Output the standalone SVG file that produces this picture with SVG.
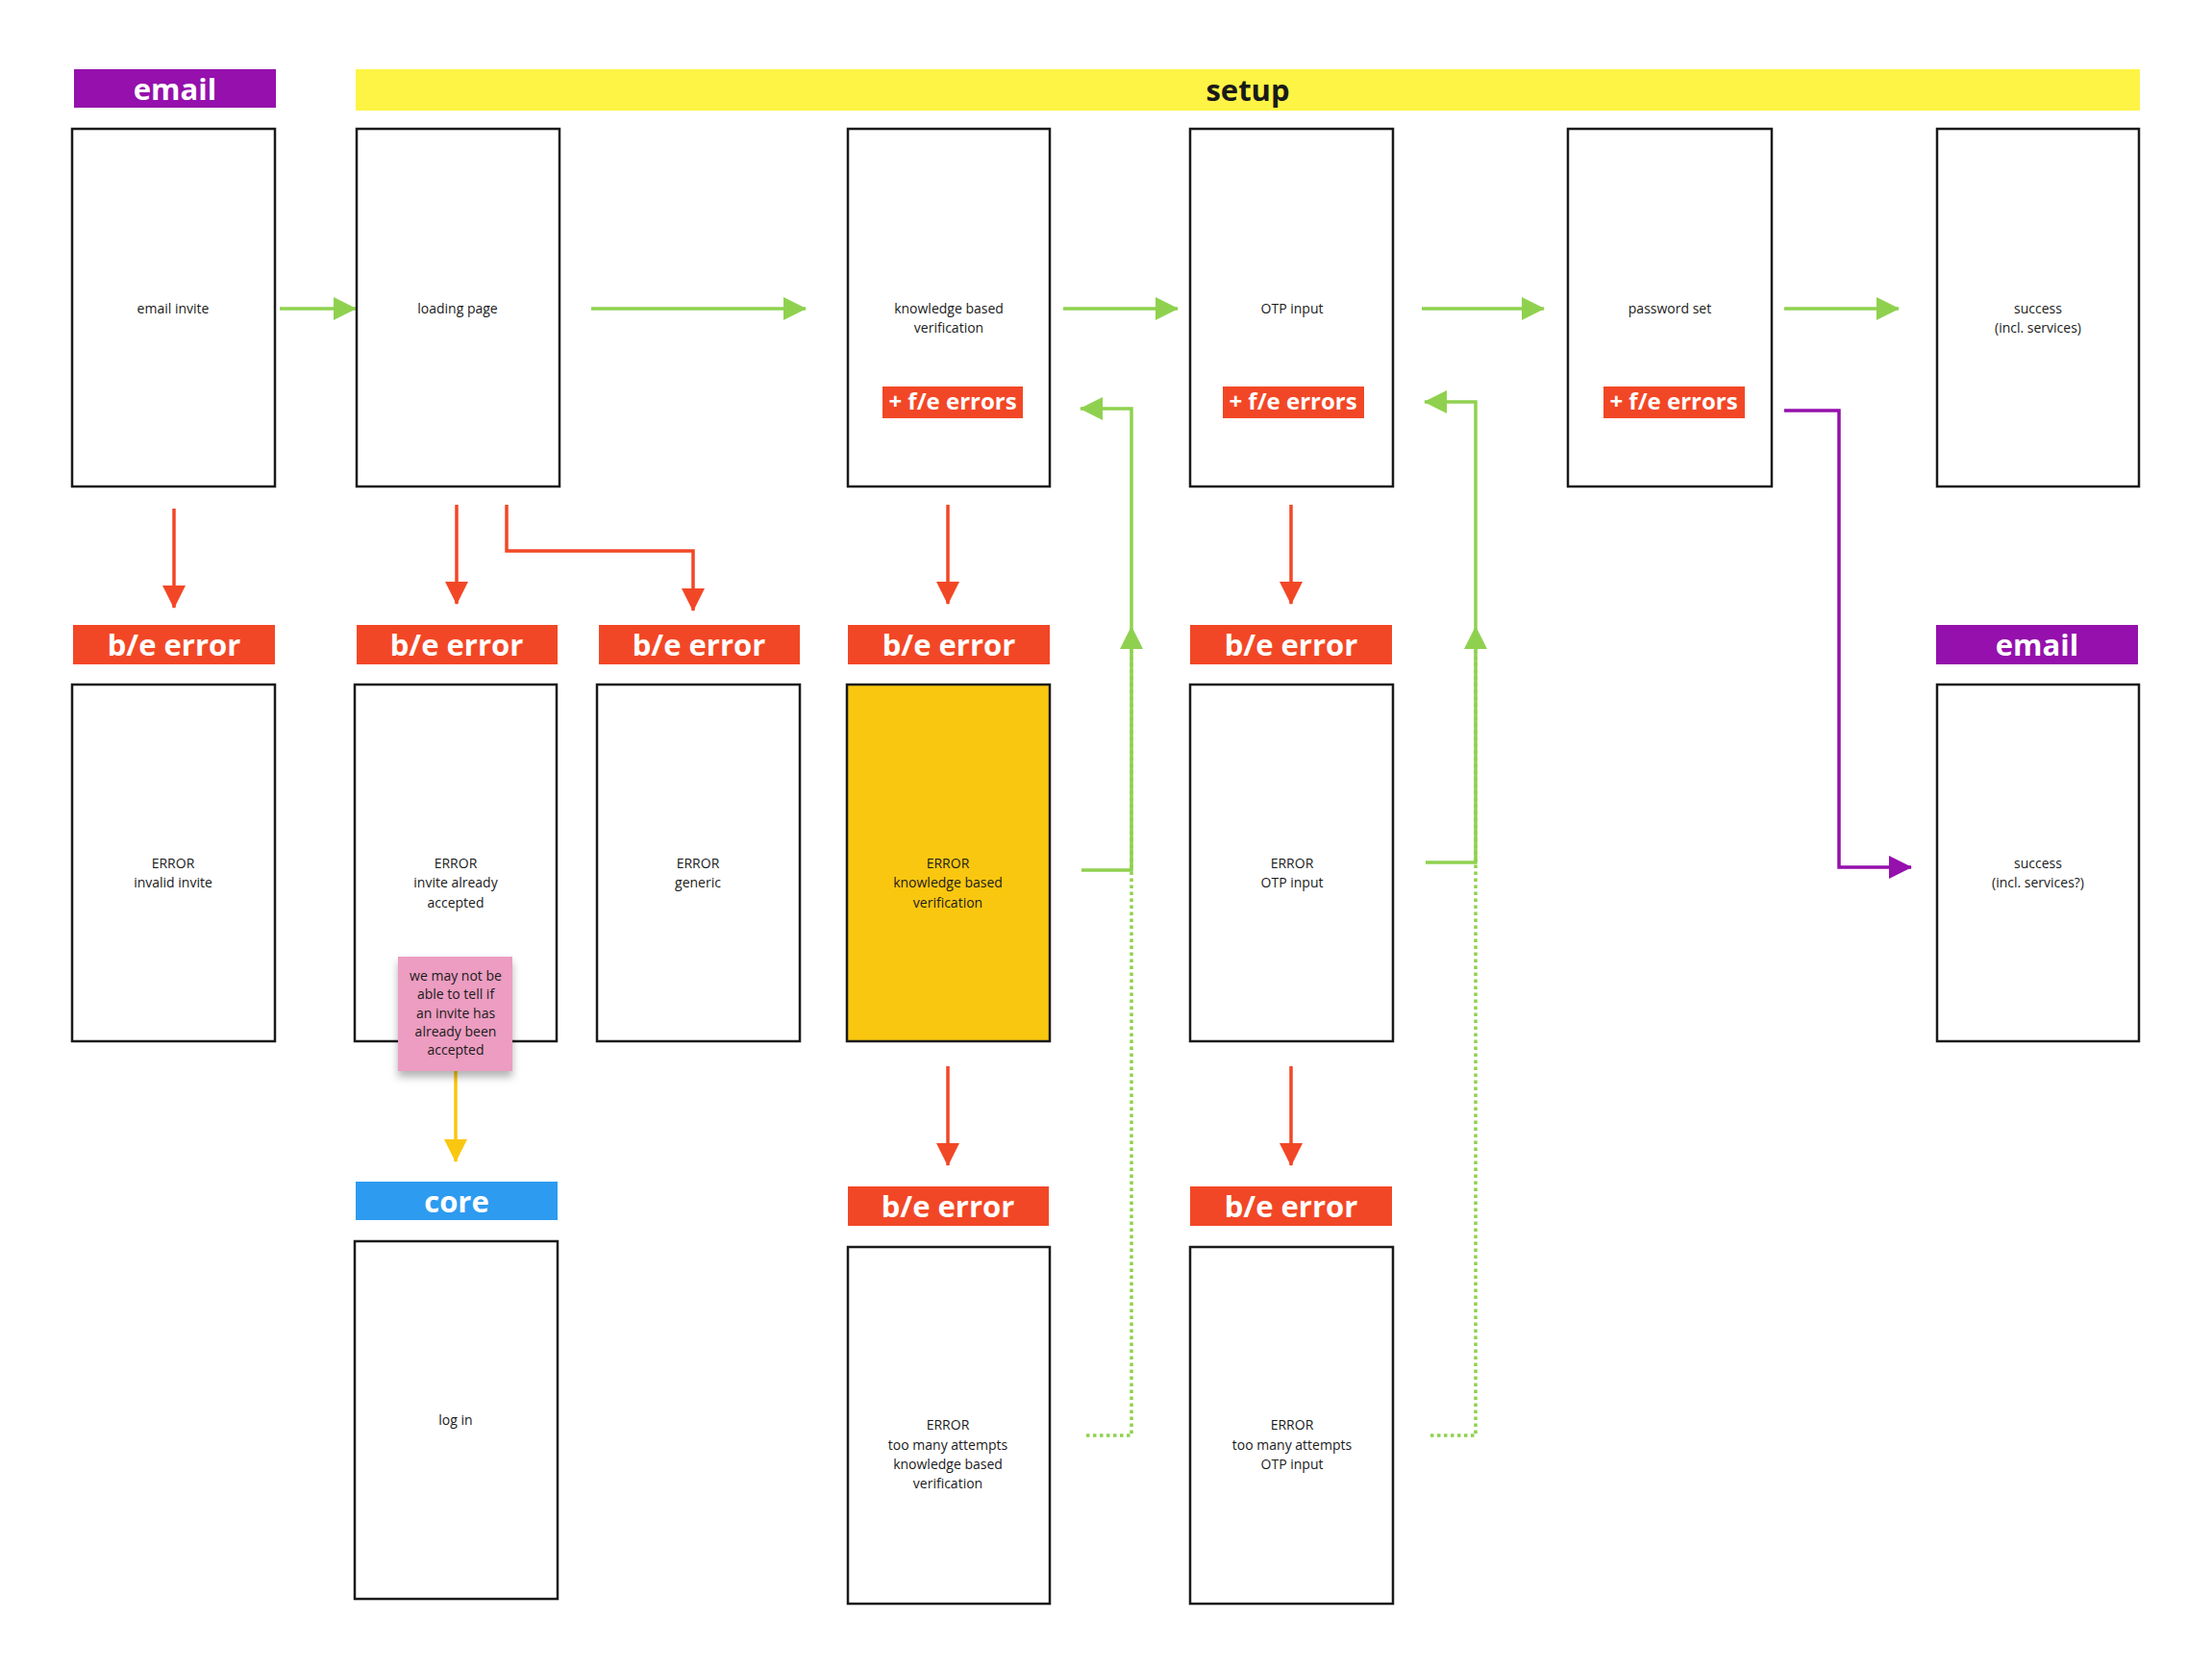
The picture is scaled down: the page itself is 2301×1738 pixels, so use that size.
<svg xmlns="http://www.w3.org/2000/svg" width="2301" height="1738" viewBox="0 0 2301 1738">
<style>
.box{fill:#ffffff;stroke:#1a1a1a;stroke-width:2.5}
.t{font-family:"Open Sans","Liberation Sans",sans-serif;font-size:14px;fill:#1a1a1a;text-anchor:middle}
.lbl{font-family:"Open Sans","Liberation Sans",sans-serif;font-weight:bold;font-size:31px;fill:#ffffff;text-anchor:middle}
.fe{font-family:"Open Sans","Liberation Sans",sans-serif;font-weight:bold;font-size:24px;fill:#ffffff;text-anchor:middle}
.red{fill:#f24726}
.purple{fill:#9510ac}
.c{fill:none;stroke-width:3.5;stroke-linejoin:miter}
.cg{stroke:#8fd14f}
.cr{stroke:#f24726}
.cy{stroke:#fac710}
.cp{stroke:#9510ac}
.dot{stroke-dasharray:3.5 3.5}
</style>
<defs>
<marker id="ag" markerUnits="userSpaceOnUse" markerWidth="24" markerHeight="24" refX="23" refY="12" orient="auto"><path d="M0,0 L24,12 L0,24 z" fill="#8fd14f"/></marker>
<marker id="ar" markerUnits="userSpaceOnUse" markerWidth="24" markerHeight="24" refX="23" refY="12" orient="auto"><path d="M0,0 L24,12 L0,24 z" fill="#f24726"/></marker>
<marker id="ay" markerUnits="userSpaceOnUse" markerWidth="24" markerHeight="24" refX="23" refY="12" orient="auto"><path d="M0,0 L24,12 L0,24 z" fill="#fac710"/></marker>
<marker id="ap" markerUnits="userSpaceOnUse" markerWidth="24" markerHeight="24" refX="23" refY="12" orient="auto"><path d="M0,0 L24,12 L0,24 z" fill="#9510ac"/></marker>
<filter id="sh" x="-20%" y="-20%" width="140%" height="150%"><feDropShadow dx="0" dy="6" stdDeviation="4" flood-color="#000" flood-opacity="0.3"/></filter>
</defs>
<rect width="2301" height="1738" fill="#ffffff"/>

<g id="connectors">
<path class="c cg" d="M291,321 L370,321" marker-end="url(#ag)"/>
<path class="c cg" d="M615,321 L838,321" marker-end="url(#ag)"/>
<path class="c cg" d="M1106,321 L1225,321" marker-end="url(#ag)"/>
<path class="c cg" d="M1479,321 L1606,321" marker-end="url(#ag)"/>
<path class="c cg" d="M1856,321 L1975,321" marker-end="url(#ag)"/>
<path class="c cg dot" d="M1130,1493 L1177,1493 L1177,652" marker-end="url(#ag)"/>
<path class="c cg dot" d="M1488,1493 L1535,1493 L1535,652" marker-end="url(#ag)"/>
<path class="c cg" d="M1125,905 L1177,905 L1177,425 L1124,425" marker-end="url(#ag)"/>
<path class="c cg" d="M1483,897 L1535,897 L1535,418 L1482,418" marker-end="url(#ag)"/>
<path class="c cr" d="M181,529 L181,632" marker-end="url(#ar)"/>
<path class="c cr" d="M475,525 L475,628" marker-end="url(#ar)"/>
<path class="c cr" d="M527,525 L527,573 L721,573 L721,635" marker-end="url(#ar)"/>
<path class="c cr" d="M986,525 L986,628" marker-end="url(#ar)"/>
<path class="c cr" d="M1343,525 L1343,628" marker-end="url(#ar)"/>
<path class="c cr" d="M986,1109 L986,1212" marker-end="url(#ar)"/>
<path class="c cr" d="M1343,1109 L1343,1212" marker-end="url(#ar)"/>
<path class="c cy" d="M474,1114 L474,1208" marker-end="url(#ay)"/>
<path class="c cp" d="M1856,427 L1913,427 L1913,902 L1988,902" marker-end="url(#ap)"/>
</g>

<g id="label-email-top"><rect class="purple" x="77" y="72" width="210" height="40"/><text class="lbl" x="182" y="104">email</text></g>
<g id="label-setup"><rect fill="#fef445" x="370" y="72" width="1856" height="43"/><text class="lbl" x="1298" y="105" style="fill:#1a1a1a">setup</text></g>

<g id="node-email-invite"><rect class="box" x="75" y="134" width="211" height="372"/><text class="t" x="180" y="326">email invite</text></g>
<g id="node-loading-page"><rect class="box" x="371" y="134" width="211" height="372"/><text class="t" x="476" y="326">loading page</text></g>
<g id="node-kbv"><rect class="box" x="882" y="134" width="210" height="372"/><text class="t" x="987" y="326">knowledge based</text><text class="t" x="987" y="346">verification</text>
<rect class="red" x="918" y="402" width="146" height="33"/><text class="fe" x="991" y="426">+ f/e errors</text></g>
<g id="node-otp"><rect class="box" x="1238" y="134" width="211" height="372"/><text class="t" x="1344" y="326">OTP input</text>
<rect class="red" x="1272" y="402" width="147" height="33"/><text class="fe" x="1345" y="426">+ f/e errors</text></g>
<g id="node-password"><rect class="box" x="1631" y="134" width="212" height="372"/><text class="t" x="1737" y="326">password set</text>
<rect class="red" x="1668" y="402" width="147" height="33"/><text class="fe" x="1741" y="426">+ f/e errors</text></g>
<g id="node-success"><rect class="box" x="2015" y="134" width="210" height="372"/><text class="t" x="2120" y="326">success</text><text class="t" x="2120" y="346">(incl. services)</text></g>

<g id="node-error-invalid"><rect class="red" x="76" y="650" width="210" height="41"/><text class="lbl" x="181" y="682">b/e error</text>
<rect class="box" x="75" y="712" width="211" height="371"/><text class="t" x="180" y="903">ERROR</text><text class="t" x="180" y="923">invalid invite</text></g>
<g id="node-error-accepted"><rect class="red" x="371" y="650" width="209" height="41"/><text class="lbl" x="475" y="682">b/e error</text>
<rect class="box" x="369" y="712" width="210" height="371"/><text class="t" x="474" y="903">ERROR</text><text class="t" x="474" y="923">invite already</text><text class="t" x="474" y="944">accepted</text></g>
<g id="node-error-generic"><rect class="red" x="623" y="650" width="209" height="41"/><text class="lbl" x="727" y="682">b/e error</text>
<rect class="box" x="621" y="712" width="211" height="371"/><text class="t" x="726" y="903">ERROR</text><text class="t" x="726" y="923">generic</text></g>
<g id="node-error-kbv"><rect class="red" x="882" y="650" width="210" height="41"/><text class="lbl" x="987" y="682">b/e error</text>
<rect class="box" x="881" y="712" width="211" height="371" style="fill:#fac710"/><text class="t" x="986" y="903">ERROR</text><text class="t" x="986" y="923">knowledge based</text><text class="t" x="986" y="944">verification</text></g>
<g id="node-error-otp"><rect class="red" x="1238" y="650" width="210" height="41"/><text class="lbl" x="1343" y="682">b/e error</text>
<rect class="box" x="1238" y="712" width="211" height="371"/><text class="t" x="1344" y="903">ERROR</text><text class="t" x="1344" y="923">OTP input</text></g>
<g id="node-success-email"><rect class="purple" x="2014" y="650" width="210" height="41"/><text class="lbl" x="2119" y="682">email</text>
<rect class="box" x="2015" y="712" width="210" height="371"/><text class="t" x="2120" y="903">success</text><text class="t" x="2120" y="923">(incl. services?)</text></g>

<g id="node-sticky"><rect x="414" y="995" width="119" height="119" fill="#ec9dc1" filter="url(#sh)"/>
<text class="t" x="474" y="1020">we may not be</text><text class="t" x="474" y="1039">able to tell if</text><text class="t" x="474" y="1059">an invite has</text><text class="t" x="474" y="1078">already been</text><text class="t" x="474" y="1097">accepted</text></g>

<g id="node-login"><rect fill="#2d9bf0" x="370" y="1229" width="210" height="40"/><text class="lbl" x="475" y="1261">core</text>
<rect class="box" x="369" y="1291" width="211" height="372"/><text class="t" x="474" y="1482">log in</text></g>
<g id="node-toomany-kbv"><rect class="red" x="882" y="1234" width="209" height="41"/><text class="lbl" x="986" y="1266">b/e error</text>
<rect class="box" x="882" y="1297" width="210" height="371"/><text class="t" x="986" y="1487">ERROR</text><text class="t" x="986" y="1508">too many attempts</text><text class="t" x="986" y="1528">knowledge based</text><text class="t" x="986" y="1548">verification</text></g>
<g id="node-toomany-otp"><rect class="red" x="1238" y="1234" width="210" height="41"/><text class="lbl" x="1343" y="1266">b/e error</text>
<rect class="box" x="1238" y="1297" width="211" height="371"/><text class="t" x="1344" y="1487">ERROR</text><text class="t" x="1344" y="1508">too many attempts</text><text class="t" x="1344" y="1528">OTP input</text></g>
</svg>
